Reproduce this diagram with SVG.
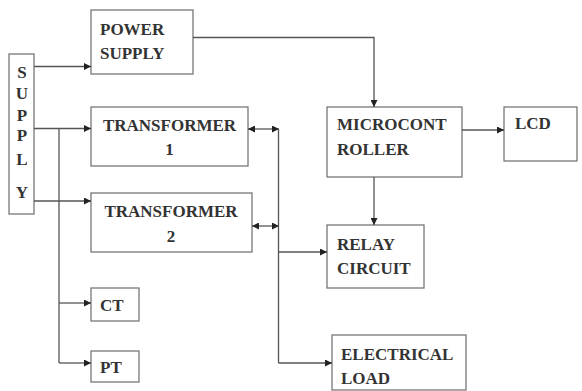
<svg xmlns="http://www.w3.org/2000/svg" width="582" height="391" viewBox="0 0 582 391">
<style>
.box{fill:#fff;stroke:#777;stroke-width:1.3}
.t{font-family:"Liberation Serif","Times New Roman",serif;font-weight:bold;font-size:17px;fill:#333}
.c{fill:none;stroke:#555;stroke-width:1.3}
</style>
<defs>
<marker id="ah" viewBox="0 0 10 10" refX="10" refY="5" markerWidth="7" markerHeight="7" markerUnits="userSpaceOnUse" orient="auto-start-reverse">
<path d="M0,0L10,5L0,10z" fill="#222"/>
</marker>
</defs>
<rect width="582" height="391" fill="#fff"/>
<g id="supply">
<rect class="box" x="9" y="54" width="25" height="160"/>
<g class="t" text-anchor="middle" font-size="15">
<text x="22" y="78">S</text>
<text x="22" y="99">U</text>
<text x="22" y="121">P</text>
<text x="22" y="141">P</text>
<text x="22" y="165">L</text>
<text x="22" y="198">Y</text>
</g>
</g>
<g id="power">
<rect class="box" x="91" y="10" width="102" height="64"/>
<text class="t" x="100" y="35">POWER</text>
<text class="t" x="100" y="59">SUPPLY</text>
</g>
<g id="tr1">
<rect class="box" x="91" y="107" width="157" height="59"/>
<text class="t" x="169.5" y="131" text-anchor="middle">TRANSFORMER</text>
<text class="t" x="169.5" y="155" text-anchor="middle">1</text>
</g>
<g id="tr2">
<rect class="box" x="91" y="193" width="161" height="59"/>
<text class="t" x="171" y="217" text-anchor="middle">TRANSFORMER</text>
<text class="t" x="171" y="242" text-anchor="middle">2</text>
</g>
<g id="ct">
<rect class="box" x="91" y="288" width="48" height="33"/>
<text class="t" x="100" y="311">CT</text>
</g>
<g id="pt">
<rect class="box" x="91" y="351" width="48" height="31"/>
<text class="t" x="100" y="373">PT</text>
</g>
<g id="micro">
<rect class="box" x="327" y="107" width="135" height="70"/>
<text class="t" x="337" y="130">MICROCONT</text>
<text class="t" x="337" y="155">ROLLER</text>
</g>
<g id="lcd">
<rect class="box" x="504" y="107" width="73" height="54"/>
<text class="t" x="515" y="129">LCD</text>
</g>
<g id="relay">
<rect class="box" x="327" y="225" width="97" height="63"/>
<text class="t" x="337" y="250">RELAY</text>
<text class="t" x="337" y="274">CIRCUIT</text>
</g>
<g id="load">
<rect class="box" x="332" y="335" width="134" height="55"/>
<text class="t" x="341" y="360">ELECTRICAL</text>
<text class="t" x="341" y="384">LOAD</text>
</g>
<g id="connectors">
<path class="c" d="M34,66.5H91" marker-end="url(#ah)"/>
<path class="c" d="M34,128.5H91" marker-end="url(#ah)"/>
<path class="c" d="M34,201H91" marker-end="url(#ah)"/>
<path class="c" d="M59,128.5V363" />
<path class="c" d="M59,303H91" marker-end="url(#ah)"/>
<path class="c" d="M59,363H91" marker-end="url(#ah)"/>
<path class="c" d="M193,37.5H374V107" marker-end="url(#ah)"/>
<path class="c" d="M462,130H504" marker-end="url(#ah)"/>
<path class="c" d="M374,177V225" marker-end="url(#ah)"/>
<path class="c" d="M248,129H279" marker-start="url(#ah)" marker-end="url(#ah)"/>
<path class="c" d="M252,226H279" marker-start="url(#ah)" marker-end="url(#ah)"/>
<path class="c" d="M278.5,129V363"/>
<path class="c" d="M278.5,252H327" marker-end="url(#ah)"/>
<path class="c" d="M278.5,363H332" marker-end="url(#ah)"/>
</g>
</svg>
